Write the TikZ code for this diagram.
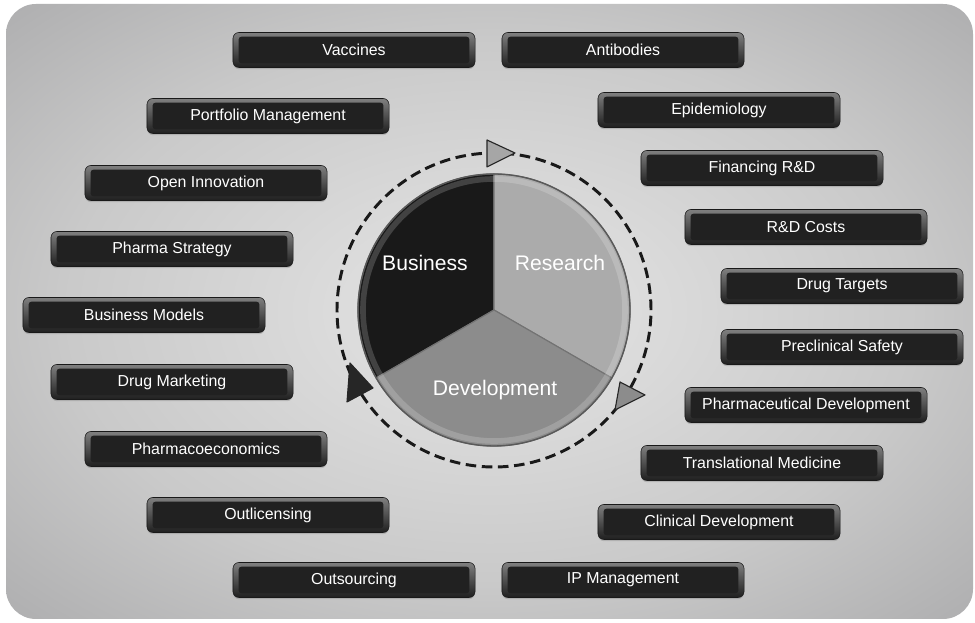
\documentclass[tikz,border=0pt]{standalone}
\usepackage{fontspec}
\setmainfont{Liberation Sans}
\usetikzlibrary{shadows}

% soft grey panel, light in the middle
\pgfdeclareradialshading{panelshade}{\pgfpoint{0bp}{0bp}}{rgb(0bp)=(0.90,0.90,0.90); rgb(22bp)=(0.79,0.79,0.79); rgb(50bp)=(0.57,0.57,0.58); rgb(72bp)=(0.42,0.42,0.44)}

\tikzset{
  topic/.style={rounded corners=0.15cm, top color=black!50, bottom color=black!88,
    draw=black!90, text=white, minimum width=6.05cm, minimum height=0.875cm,
    inner sep=0pt, font=\fontsize{11.3}{13}\selectfont,
    drop shadow={shadow xshift=0pt, shadow yshift=-1.2pt, opacity=0.35},
    path picture={\fill[black!87, rounded corners=2pt]
      ([xshift=4pt,yshift=-3pt]path picture bounding box.north west) rectangle
      ([xshift=-4pt,yshift=3pt]path picture bounding box.south east);}},
  slice/.style={draw=black!55, line width=0.8pt},
  cyclelabel/.style={text=white, font=\fontsize{15}{18}\selectfont},
  tip/.style={draw=black!85, line width=0.8pt, line join=round}
}

\begin{document}
\begin{tikzpicture}[x=0.025cm,y=0.025cm]
    \useasboundingbox (0,0) rectangle (975,623);
    \fill[white] (0,0) rectangle (975,623);
    \shade[shading=panelshade, rounded corners=0.75cm] (6,4) rectangle (973,619);

    \coordinate (ctr) at (494,313);

    % the three sectors
    \fill[black!90, slice] (ctr) -- +(90:136) arc (90:210:136) -- cycle;
    \fill[black!33, slice] (ctr) -- +(-30:136) arc (-30:90:136) -- cycle;
    \fill[black!45, slice] (ctr) -- +(210:136) arc (210:330:136) -- cycle;
    % bevel along the rim
    \draw[white, opacity=0.18, line width=4pt] (ctr) circle (131);
    \draw[black!65, line width=1pt] (ctr) circle (136);

    \node[cyclelabel] (bus) at (425,360) {Business};
    \node[cyclelabel] (res) at (560,360) {Research};
    \node[cyclelabel] (dev) at (495,233) {Development};

    % dashed cycle with its arrow tips
    \draw[black!90, line width=2.1pt, dash pattern=on 7.5pt off 4pt] (ctr) circle (157);
    \filldraw[tip, fill=black!35] (487,483) -- (515,470) -- (487,456) -- cycle;
    \filldraw[tip, fill=black!45] (620,241) -- (645,228) -- (615,213) -- cycle;
    \filldraw[tip, fill=black!85] (350,260) -- (373,235) -- (347,221) -- cycle;

    % left side
    \node[topic] (vac) at (354,573) {Vaccines};
    \node[topic] (port) at (268,507) {Portfolio Management};
    \node[topic] (open) at (206,440) {Open Innovation};
    \node[topic] (strat) at (172,374) {Pharma Strategy};
    \node[topic] (bmod) at (144,308) {Business Models};
    \node[topic] (mkt) at (172,241) {Drug Marketing};
    \node[topic] (econ) at (206,174) {Pharmacoeconomics};
    \node[topic] (outl) at (268,108) {Outlicensing};
    \node[topic] (outs) at (354,43) {Outsourcing};

    % right side
    \node[topic] (anti) at (623,573) {Antibodies};
    \node[topic] (epi) at (719,513) {Epidemiology};
    \node[topic] (fin) at (762,455) {Financing R\&D};
    \node[topic] (cost) at (806,396) {R\&D Costs};
    \node[topic] (targ) at (842,337) {Drug Targets};
    \node[topic] (safe) at (842,276) {Preclinical Safety};
    \node[topic] (pdev) at (806,218) {Pharmaceutical Development};
    \node[topic] (trans) at (762,160) {Translational Medicine};
    \node[topic] (clin) at (719,101) {Clinical Development};
    \node[topic] (ip) at (623,43) {IP Management};
\end{tikzpicture}
\end{document}
